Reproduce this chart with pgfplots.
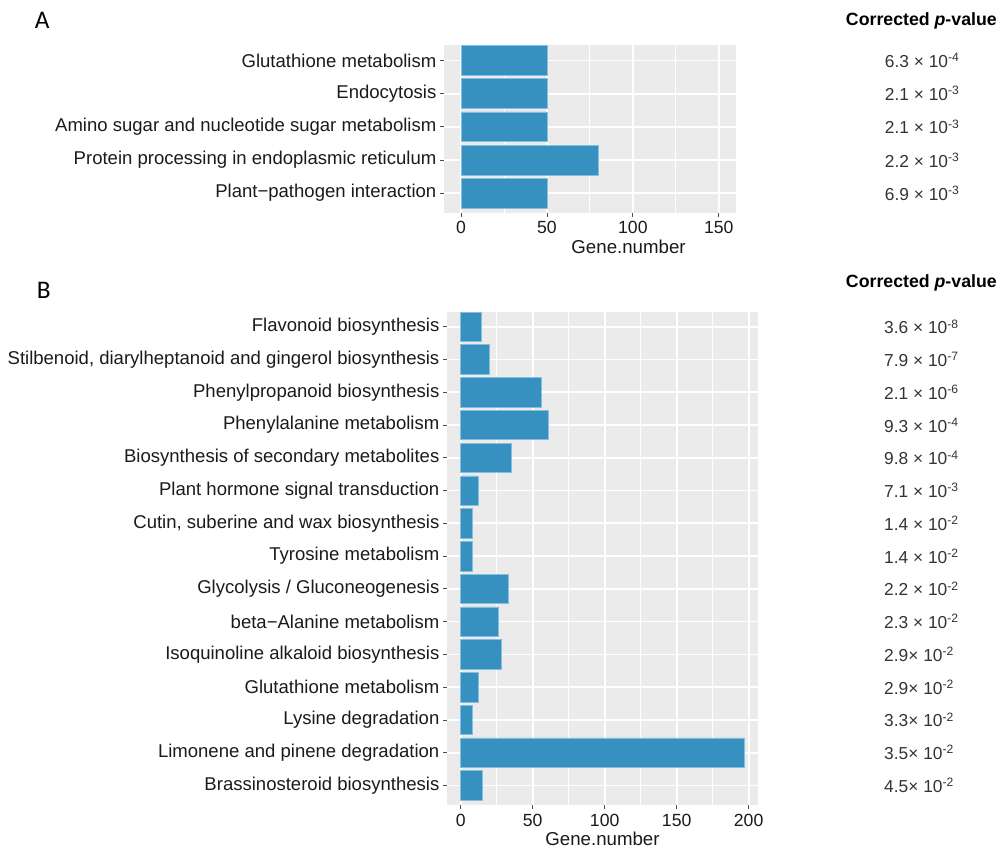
\documentclass[border=0pt]{standalone}
\usepackage{pgfplots}
\pgfplotsset{compat=1.18}
\usepackage{fontspec}
\setmainfont{Liberation Sans}
\newfontfamily\letterfont{Carlito}
\definecolor{barblue}{HTML}{3690C0}
\definecolor{baredge}{HTML}{86BEDF}
\definecolor{panelbg}{HTML}{EBEBEB}
\definecolor{txt}{HTML}{1A1A1A}
\definecolor{pvtxt}{HTML}{333333}
\newcommand{\pv}[2]{#1 × 10\textsuperscript{#2}}
\newcommand{\pvn}[2]{#1× 10\textsuperscript{#2}}
\tikzset{pvstyle/.style={anchor=west, inner sep=0pt, font=\fontsize{13}{15}\selectfont, text=pvtxt}}
\pgfplotsset{
  ggstyle/.style={
    scale only axis, anchor=north west,
    axis background/.style={fill=panelbg},
    axis line style={draw=none},
    tick pos=left, tick align=outside,
    major tick length=3pt, minor tick length=0pt,
    every tick/.style={gray!60!black, line width=0.6pt},
    xmajorgrids, xminorgrids, ymajorgrids,
    major grid style={white, line width=1.3pt},
    minor grid style={white, line width=0.65pt},
    y dir=reverse,
    xbar, bar width=0.9,
    /pgf/number format/assume math mode=true,
    xticklabel style={font=\fontsize{13.2}{15}\selectfont, text=txt},
    yticklabel style={font=\fontsize{13.9}{16}\selectfont, text=txt, xshift=0.8pt},
    xlabel style={font=\fontsize{14}{16}\selectfont, text=txt, anchor=center, yshift=-25.5pt},
    xlabel={Gene.number},
    clip=false,
  },
}
\begin{document}
\begin{tikzpicture}
\path[use as bounding box] (0,0) rectangle (750pt,-636pt);
% Panel A
\begin{axis}[ggstyle,
  at={(333pt,-33.75pt)}, width=219pt, height=126pt,
  xmin=-9.9, xmax=160, ymin=0.53, ymax=5.6,
  xtick={0,50,100,150}, minor xtick={25,75,125},
  ytick={1,2,3,4,5},
  yticklabels={Glutathione metabolism, Endocytosis, Amino sugar and nucleotide sugar metabolism, Protein processing in endoplasmic reticulum, Plant−pathogen interaction},
  xlabel style={at={(axis description cs:0.632,0)}},
]
\addplot[fill=barblue, draw=baredge, line width=0.5pt] coordinates {(50,1) (50,2) (50,3) (80,4) (50,5)};
\node[pvstyle] at (axis cs:246.5,1) {\pv{6.3}{-4}};
\node[pvstyle] at (axis cs:246.5,2) {\pv{2.1}{-3}};
\node[pvstyle] at (axis cs:246.5,3) {\pv{2.1}{-3}};
\node[pvstyle] at (axis cs:246.5,4) {\pv{2.2}{-3}};
\node[pvstyle] at (axis cs:246.5,5) {\pv{6.9}{-3}};
\end{axis}
% Panel B
\begin{axis}[ggstyle,
  at={(335.25pt,-233.8pt)}, width=233.25pt, height=370pt,
  xmin=-9.5, xmax=206.5, ymin=0.54, ymax=15.6,
  xtick={0,50,100,150,200}, minor xtick={25,75,125,175},
  ytick={1,...,15},
  yticklabels={Flavonoid biosynthesis, {Stilbenoid, diarylheptanoid and gingerol biosynthesis}, Phenylpropanoid biosynthesis, Phenylalanine metabolism, Biosynthesis of secondary metabolites, Plant hormone signal transduction, {Cutin, suberine and wax biosynthesis}, Tyrosine metabolism, Glycolysis / Gluconeogenesis, beta−Alanine metabolism, Isoquinoline alkaloid biosynthesis, Glutathione metabolism, Lysine degradation, Limonene and pinene degradation, Brassinosteroid biosynthesis},
  xlabel style={at={(axis description cs:0.5,0)}},
]
\addplot[fill=barblue, draw=baredge, line width=0.5pt] coordinates {(14,1) (20,2) (56,3) (61,4) (35,5) (12,6) (8,7) (8,8) (33,9) (26,10) (28,11) (12,12) (8,13) (197,14) (15,15)};
\node[pvstyle] at (axis cs:294,1) {\pv{3.6}{-8}};
\node[pvstyle] at (axis cs:294,2) {\pv{7.9}{-7}};
\node[pvstyle] at (axis cs:294,3) {\pv{2.1}{-6}};
\node[pvstyle] at (axis cs:294,4) {\pv{9.3}{-4}};
\node[pvstyle] at (axis cs:294,5) {\pv{9.8}{-4}};
\node[pvstyle] at (axis cs:294,6) {\pv{7.1}{-3}};
\node[pvstyle] at (axis cs:294,7) {\pv{1.4}{-2}};
\node[pvstyle] at (axis cs:294,8) {\pv{1.4}{-2}};
\node[pvstyle] at (axis cs:294,9) {\pv{2.2}{-2}};
\node[pvstyle] at (axis cs:294,10) {\pv{2.3}{-2}};
\node[pvstyle] at (axis cs:294,11) {\pvn{2.9}{-2}};
\node[pvstyle] at (axis cs:294,12) {\pvn{2.9}{-2}};
\node[pvstyle] at (axis cs:294,13) {\pvn{3.3}{-2}};
\node[pvstyle] at (axis cs:294,14) {\pvn{3.5}{-2}};
\node[pvstyle] at (axis cs:294,15) {\pvn{4.5}{-2}};
\end{axis}
% Headers and panel letters
\node[anchor=east, inner sep=0pt, font=\fontsize{13.3}{15}\selectfont\bfseries] at (747.75pt,-15.75pt) {Corrected \textit{p}-value};
\node[anchor=east, inner sep=0pt, font=\fontsize{13.3}{15}\selectfont\bfseries] at (747.75pt,-212.25pt) {Corrected \textit{p}-value};
\node[anchor=west, inner sep=0pt, font=\letterfont\fontsize{19}{22}\selectfont] at (26pt,-15.4pt) {A};
\node[anchor=west, inner sep=0pt, font=\letterfont\fontsize{19}{22}\selectfont] at (27.5pt,-217.5pt) {B};
\end{tikzpicture}
\end{document}
